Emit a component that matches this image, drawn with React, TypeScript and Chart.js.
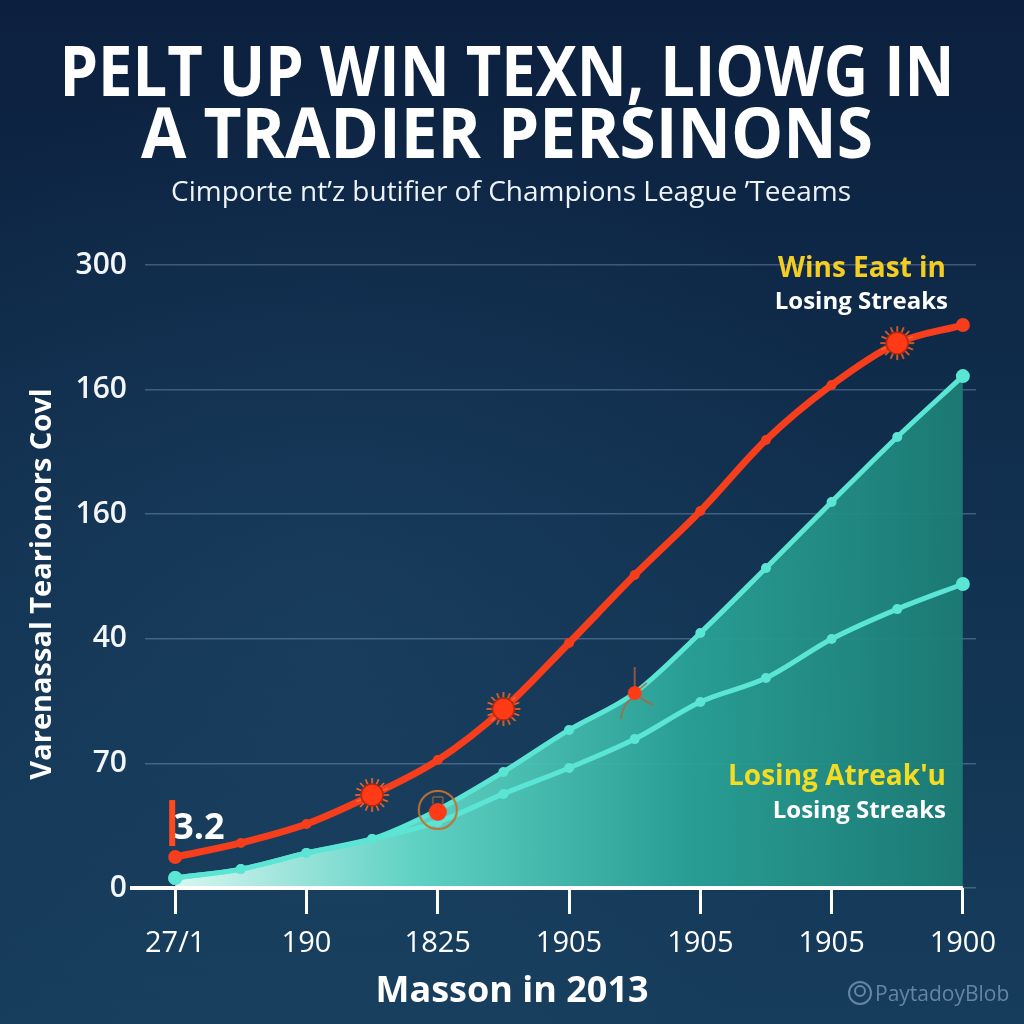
import React, { useEffect, useRef } from "react";
import { Chart, registerables } from "chart.js";

Chart.register(...registerables);

// ---------- data ----------
const xTickLabels = ["27/1", "190", "1825", "1905", "1905", "1905", "1900"];
const xPositions = [0, 1, 2, 3, 4, 5, 6, 7, 8, 9, 10, 11, 12];
const yTickLabels = ["0", "70", "40", "160", "160", "300"];

const redSeries = [14.9, 21.7, 30.8, 44.8, 61.6, 86.2, 118, 150.7, 181.5, 215.7, 242.2, 262.4, 271.1];
const tealUpper = [4.8, 9.1, 16.9, 23.6, 37.6, 55.9, 76.1, 93.9, 122.8, 154.1, 185.9, 217.2, 246.5];
const tealLower = [4.8, 9.1, 16.9, 23.6, 31.8, 45.3, 57.8, 71.7, 89.6, 101.1, 119.9, 134.3, 146.4];
const sunIndices = [3, 5, 11];
const markerIndices = [4, 7];

const TITLE_LINES = ["PELT UP WIN TEXN, LIOWG IN", "A TRADIER PERSINONS"];
const SUBTITLE = "Cimporte nt’z butifier of Champions League ’Teeams";
const Y_TITLE = "Varenassal Tearionors Covl";
const X_TITLE = "Masson in 2013";
const ANNOT_TOP = ["Wins East in", "Losing Streaks"];
const ANNOT_BOTTOM = ["Losing Atreak'u", "Losing Streaks"];
const FIRST_LABEL = "3.2";
const WATERMARK = "PaytadoyBlob";

const FONT = "'Open Sans', 'Noto Sans', sans-serif";
const RED = "#f63e1c";
const TEAL = "#5ae5d5";

function makeSun(): HTMLCanvasElement {
  const c = document.createElement("canvas");
  c.width = 38;
  c.height = 38;
  const g = c.getContext("2d")!;
  g.translate(19, 19);
  g.strokeStyle = "#ff6a2e";
  g.lineWidth = 1.5;
  for (let i = 0; i < 16; i++) {
    const a = (i / 16) * Math.PI * 2;
    g.beginPath();
    g.moveTo(Math.cos(a) * 10, Math.sin(a) * 10);
    g.lineTo(Math.cos(a) * 17, Math.sin(a) * 17);
    g.stroke();
  }
  g.beginPath();
  g.arc(0, 0, 11, 0, Math.PI * 2);
  g.fillStyle = "#ff3a16";
  g.fill();
  g.strokeStyle = "#b3260c";
  g.lineWidth = 1.5;
  g.stroke();
  return c;
}

function makeRing(): HTMLCanvasElement {
  const c = document.createElement("canvas");
  c.width = 46;
  c.height = 46;
  const g = c.getContext("2d")!;
  g.translate(23, 23);
  g.beginPath();
  g.arc(0, 0, 19, 0, Math.PI * 2);
  g.strokeStyle = "#c4702e";
  g.lineWidth = 2;
  g.stroke();
  g.beginPath();
  g.arc(0, 2, 9, 0, Math.PI * 2);
  g.fillStyle = "#ff3a16";
  g.fill();
  g.strokeStyle = "#c4702e";
  g.lineWidth = 1;
  g.beginPath();
  g.moveTo(-5, -6);
  g.lineTo(-5, -13);
  g.lineTo(5, -13);
  g.lineTo(5, -6);
  g.stroke();
  return c;
}

function makeSpark(): HTMLCanvasElement {
  const c = document.createElement("canvas");
  c.width = 60;
  c.height = 60;
  const g = c.getContext("2d")!;
  g.translate(30, 30);
  g.strokeStyle = "#b8603a";
  g.lineWidth = 1.5;
  g.beginPath();
  g.moveTo(0, -4);
  g.lineTo(0, -26);
  g.stroke();
  g.beginPath();
  g.moveTo(-3, 5);
  g.quadraticCurveTo(-12, 12, -14, 26);
  g.stroke();
  g.beginPath();
  g.moveTo(6, 5);
  g.lineTo(18, 12);
  g.stroke();
  g.beginPath();
  g.moveTo(5, -4);
  g.lineTo(12, -10);
  g.stroke();
  g.beginPath();
  g.arc(0, 0, 7, 0, Math.PI * 2);
  g.fillStyle = "#ff3a16";
  g.fill();
  return c;
}

const decorPlugin = {
  id: "decor",
  beforeDraw(chart: any) {
    const { ctx, width, height } = chart;
    ctx.save();
    const bg = ctx.createLinearGradient(0, 0, 0, height);
    bg.addColorStop(0, "#0c1f3e");
    bg.addColorStop(0.5, "#11304f");
    bg.addColorStop(1, "#173d5c");
    ctx.fillStyle = bg;
    ctx.fillRect(0, 0, width, height);
    const rg = ctx.createRadialGradient(330, 620, 20, 330, 620, 560);
    rg.addColorStop(0, "rgba(40,85,120,0.28)");
    rg.addColorStop(1, "rgba(40,85,120,0)");
    ctx.fillStyle = rg;
    ctx.fillRect(0, 0, width, height);
    ctx.restore();
  },
  afterDatasetsDraw(chart: any) {
    const { ctx, chartArea, scales } = chart;
    const xs = scales.x;
    const ys = scales.y;
    ctx.save();
    ctx.strokeStyle = "#ffffff";
    ctx.lineWidth = 4;
    ctx.beginPath();
    ctx.moveTo(chartArea.left - 15, ys.getPixelForValue(0));
    ctx.lineTo(xs.getPixelForValue(xPositions[xPositions.length - 1]), ys.getPixelForValue(0));
    ctx.stroke();

    const px = xs.getPixelForValue(xPositions[0]);
    const py = ys.getPixelForValue(redSeries[0]);
    ctx.fillStyle = "#ffffff";
    ctx.font = `700 36px ${FONT}`;
    ctx.textAlign = "left";
    ctx.textBaseline = "alphabetic";
    ctx.fillText(FIRST_LABEL, px - 2, py - 18);
    ctx.fillStyle = "#ff4a1f";
    ctx.fillRect(px - 6, py - 57, 6, 46);
    ctx.restore();
  },
  afterDraw(chart: any) {
    const { ctx } = chart;
    ctx.save();
    ctx.textBaseline = "alphabetic";
    ctx.fillStyle = "#ffffff";
    ctx.textAlign = "center";
    ctx.font = `700 70px ${FONT}`;
    ctx.fillText(TITLE_LINES[0], 507, 96, 895);
    ctx.fillText(TITLE_LINES[1], 507, 158, 732);
    ctx.font = `400 28px ${FONT}`;
    ctx.fillStyle = "#eef3f8";
    ctx.fillText(SUBTITLE, 511, 201, 697);

    ctx.textAlign = "right";
    ctx.font = `700 28px ${FONT}`;
    ctx.fillStyle = "#f3cd22";
    ctx.fillText(ANNOT_TOP[0], 946, 277);
    ctx.font = `700 24px ${FONT}`;
    ctx.fillStyle = "#ffffff";
    ctx.fillText(ANNOT_TOP[1], 948, 309);

    ctx.font = `700 28px ${FONT}`;
    ctx.fillStyle = "#f3dc22";
    ctx.fillText(ANNOT_BOTTOM[0], 946, 785);
    ctx.font = `700 24px ${FONT}`;
    ctx.fillStyle = "#ffffff";
    ctx.fillText(ANNOT_BOTTOM[1], 946, 818);

    ctx.save();
    ctx.translate(51, 584);
    ctx.rotate(-Math.PI / 2);
    ctx.textAlign = "center";
    ctx.font = `700 29px ${FONT}`;
    ctx.fillStyle = "#ffffff";
    ctx.fillText(Y_TITLE, 0, 0, 430);
    ctx.restore();

    ctx.textAlign = "center";
    ctx.font = `700 36px ${FONT}`;
    ctx.fillStyle = "#ffffff";
    ctx.fillText(X_TITLE, 512, 1002);

    ctx.globalAlpha = 0.75;
    ctx.strokeStyle = "#7f9dbc";
    ctx.lineWidth = 2;
    ctx.beginPath();
    ctx.arc(860, 993, 11, 0, Math.PI * 2);
    ctx.stroke();
    ctx.beginPath();
    ctx.arc(860, 991, 5, 0, Math.PI * 2);
    ctx.stroke();
    ctx.textAlign = "left";
    ctx.font = `400 21px ${FONT}`;
    ctx.fillStyle = "#7f9dbc";
    ctx.fillText(WATERMARK, 875, 1001);
    ctx.restore();
  },
};

export default function App() {
  const ref = useRef<HTMLCanvasElement | null>(null);

  useEffect(() => {
    if (!ref.current) return;
    const sun = makeSun();
    const ring = makeRing();
    const spark = makeSpark();
    const last = xPositions.length - 1;

    const toPts = (arr: number[]) => arr.map((v, i) => ({ x: xPositions[i], y: v }));
    const markerPts = tealUpper.map((v, i) => ({ x: xPositions[i], y: markerIndices.includes(i) ? v : null }));

    const chart = new Chart(ref.current, {
      type: "line",
      data: {
        datasets: [
          {
            label: "markers",
            data: markerPts as any,
            showLine: false,
            pointStyle: (c: any) => (c.dataIndex === markerIndices[0] ? ring : spark),
            pointRadius: 10,
            borderWidth: 0,
          },
          {
            label: "Wins",
            data: toPts(redSeries),
            borderColor: RED,
            borderWidth: 7,
            cubicInterpolationMode: "monotone",
            pointStyle: (c: any) => (sunIndices.includes(c.dataIndex) ? sun : "circle"),
            pointRadius: (c: any) => (c.dataIndex === 0 || c.dataIndex === last ? 7 : 5),
            pointBackgroundColor: RED,
            pointBorderWidth: 0,
            fill: false,
          },
          {
            label: "Losing lower",
            data: toPts(tealLower),
            borderColor: TEAL,
            borderWidth: 5,
            cubicInterpolationMode: "monotone",
            pointRadius: (c: any) => (c.dataIndex === 0 || c.dataIndex === last ? 7 : 5),
            pointBackgroundColor: TEAL,
            pointBorderWidth: 0,
            fill: false,
          },
          {
            label: "Losing upper",
            data: toPts(tealUpper),
            borderColor: TEAL,
            borderWidth: 5,
            cubicInterpolationMode: "monotone",
            pointRadius: (c: any) => (c.dataIndex === 0 || c.dataIndex === last ? 7 : 5),
            pointBackgroundColor: TEAL,
            pointBorderWidth: 0,
            fill: "origin",
            backgroundColor: (c: any) => {
              const ch = c.chart;
              const xs = ch.scales?.x;
              if (!ch.chartArea || !xs) return "rgba(60,190,175,0.8)";
              const g = ch.ctx.createLinearGradient(xs.getPixelForValue(xPositions[0]), 0, xs.getPixelForValue(xPositions[last]), 0);
              g.addColorStop(0, "rgba(222,252,246,0.97)");
              g.addColorStop(0.3, "rgba(100,218,202,0.95)");
              g.addColorStop(0.65, "rgba(42,165,152,0.93)");
              g.addColorStop(1, "rgba(28,124,117,0.95)");
              return g;
            },
          },
        ],
      },
      options: {
        responsive: false,
        animation: false,
        events: [],
        layout: { padding: { top: 265, right: 48, left: 0, bottom: 0 } },
        plugins: {
          legend: { display: false },
          tooltip: { enabled: false },
          title: { display: false },
        },
        scales: {
          x: {
            type: "linear",
            min: -0.46,
            max: 12.2,
            afterBuildTicks: (axis: any) => {
              axis.ticks = xTickLabels.map((_, i) => ({ value: xPositions[i * 2] }));
            },
            afterFit: (axis: any) => {
              axis.height = 136;
            },
            grid: {
              drawOnChartArea: false,
              drawTicks: true,
              tickLength: 26,
              color: "#ffffff",
              lineWidth: 3,
            },
            border: { display: false },
            ticks: {
              autoSkip: false,
              maxRotation: 0,
              padding: 12,
              color: "#ffffff",
              font: { family: FONT, size: 29, weight: "500" as any },
              callback: (_v: any, i: number) => xTickLabels[i],
            },
          },
          y: {
            type: "linear",
            min: 0,
            max: 300,
            afterFit: (axis: any) => {
              axis.width = 145;
            },
            grid: {
              color: "rgba(150,180,215,0.35)",
              lineWidth: 1.5,
              drawTicks: false,
            },
            border: { display: false },
            ticks: {
              stepSize: 60,
              padding: 18,
              color: "#f2f5f9",
              font: { family: FONT, size: 30, weight: "600" as any },
              callback: (v: any) => yTickLabels[Math.round(Number(v) / 60)],
            },
          },
        },
      } as any,
      plugins: [decorPlugin],
    });
    return () => chart.destroy();
  }, []);

  return (
    <div style={{ position: "absolute", left: 0, top: 0, width: 1024, height: 1024 }}>
      <canvas ref={ref} width={1024} height={1024} style={{ display: "block", width: 1024, height: 1024 }} />
    </div>
  );
}
